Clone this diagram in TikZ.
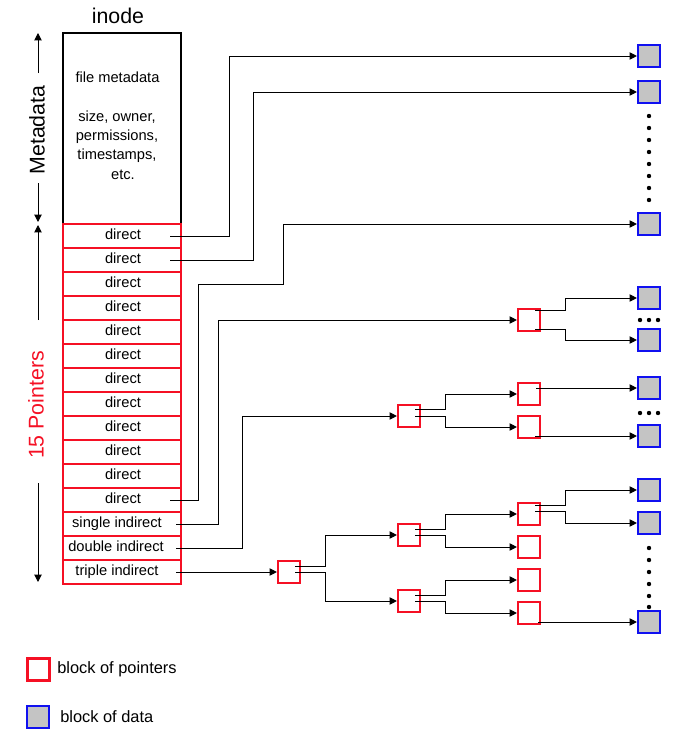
\documentclass[tikz,border=0pt]{standalone}
\usepackage{fontspec}
\setmainfont{Liberation Sans}
\usetikzlibrary{arrows.meta}
\definecolor{pred}{RGB}{245,16,36}
\definecolor{dblue}{RGB}{16,16,240}
\definecolor{dgray}{RGB}{196,196,196}
\begin{document}
\begin{tikzpicture}[x=0.75pt,y=-0.75pt,
  arr/.style={line width=0.75pt,-{Triangle[length=5.5pt,width=5.5pt]}},
  con/.style={line width=0.75pt},
  ptrblk/.style={draw=pred,line width=1.6pt,minimum size=16.5pt,inner sep=0pt},
  datblk/.style={draw=dblue,fill=dgray,line width=1.6pt,minimum size=16.5pt,inner sep=0pt},
  rowbox/.style={draw=pred,line width=1.6pt,minimum width=88.5pt,minimum height=18pt,inner sep=0pt},
  rowtxt/.style={font=\fontsize{11}{13}\selectfont,text height=8pt,text depth=2.5pt,inner sep=0pt},
  bigtxt/.style={font=\fontsize{16}{19}\selectfont,inner sep=0pt},
  legtxt/.style={font=\fontsize{12.3}{15}\selectfont,inner sep=0pt,anchor=west},
  dot/.style={fill=black}
]
\useasboundingbox (0,0) rectangle (675,739);

% inode title
\node[bigtxt] (title) at (118,16) {inode};

% metadata box
\node[draw,line width=1.6pt,minimum width=88.5pt,minimum height=143.25pt,inner sep=0pt] (meta) at (122,128.5) {};
\node[rowtxt] (m1) at (117.5,79) {file metadata};
\node[rowtxt] (m2) at (117,118) {size, owner,};
\node[rowtxt] (m3) at (117,137) {permissions,};
\node[rowtxt] (m4) at (117,156) {timestamps,};
\node[rowtxt] (m5) at (123,176) {etc.};

% pointer rows
\foreach \i in {0,...,11}
  \node[rowbox,label={[rowtxt,xshift=0.75pt]center:direct}] (r\i) at (122,{236+24*\i}) {};
\node[rowbox,label={[rowtxt,xshift=-3.75pt]center:single indirect}] (r12) at (122,524) {};
\node[rowbox,label={[rowtxt,xshift=-4.5pt]center:double indirect}] (r13) at (122,548) {};
\node[rowbox,label={[rowtxt,xshift=-3.75pt]center:triple indirect}] (r14) at (122,572) {};

% side labels
\node[bigtxt,rotate=90] (metalbl) at (37,130) {Metadata};
\coordinate (ma1) at (38,73);
\coordinate (ma2) at (38,33);
\coordinate (ma3) at (38,183);
\coordinate (ma4) at (38,222);
\draw[arr] (ma1) -- (ma2);
\draw[arr] (ma3) -- (ma4);
\node[bigtxt,rotate=90,text=pred] (ptrlbl) at (36,405) {15 Pointers};
\coordinate (pa1) at (38,320);
\coordinate (pa2) at (38,225);
\coordinate (pa3) at (38,483);
\coordinate (pa4) at (38,582);
\draw[arr] (pa1) -- (pa2);
\draw[arr] (pa3) -- (pa4);

% data blocks
\node[datblk] (b1) at (649,56) {};
\node[datblk] (b2) at (649,92) {};
\node[datblk] (b3) at (649,224) {};
\node[datblk] (b4) at (649,298) {};
\node[datblk] (b5) at (649,340) {};
\node[datblk] (b6) at (649,388) {};
\node[datblk] (b7) at (649,436) {};
\node[datblk] (b8) at (649,490) {};
\node[datblk] (b9) at (649,523) {};
\node[datblk] (b10) at (649,622) {};

% pointer blocks
\node[ptrblk] (p1) at (529,320) {};
\node[ptrblk] (p2) at (409,416) {};
\node[ptrblk] (p3) at (529,394) {};
\node[ptrblk] (p4) at (529,427) {};
\node[ptrblk] (t1) at (289,572) {};
\node[ptrblk] (t2) at (409,535) {};
\node[ptrblk] (t3) at (409,601) {};
\node[ptrblk] (t4) at (529,514) {};
\node[ptrblk] (t5) at (529,547) {};
\node[ptrblk] (t6) at (529,580) {};
\node[ptrblk] (t7) at (529,613) {};

% dots
\foreach \yy in {116,128,...,200} \fill[dot] (649,\yy) circle[radius=2.2];
\foreach \xx in {640,649,658} {\fill[dot] (\xx,320) circle[radius=2.2]; \fill[dot] (\xx,413) circle[radius=2.2];}
\foreach \yy in {548,560,572,584,596,607} \fill[dot] (649,\yy) circle[radius=2.2];

% direct connectors
\draw[arr] ([xshift=36pt]r0.center) -- ++(59,0) |- (b1);
\draw[arr] ([xshift=36pt]r1.center) -- ++(83,0) |- (b2);
\draw[arr] ([xshift=36pt]r11.center) -- ++(28,0) -- ++(0,-216) -- ++(85,0) |- (b3);
% indirect connectors
\draw[arr] ([xshift=40.5pt]r12.center) -- ++(42,0) |- (p1);
\draw[arr] ([xshift=40.5pt]r13.center) -- ++(66,0) |- (p2);
\draw[arr] ([xshift=40.5pt]r14.center) -- (t1);

% single indirect block
\draw[arr] ([shift={(6,-10)}]p1.center) -- ++(30,0) |- (b4);
\draw[arr] ([shift={(6,9)}]p1.center) -- ++(30,0) |- (b5);
% double indirect
\draw[arr] ([shift={(6,-7)}]p2.center) -- ++(30,0) |- (p3);
\draw[arr] ([shift={(6,0)}]p2.center) -- ++(30,0) |- (p4);
\draw[arr] ([shift={(7,-6)}]p3.center) -- (b6);
\draw[arr] ([shift={(6,9)}]p4.center) -- (b7);
% triple indirect
\draw[arr] ([shift={(6,-6)}]t1.center) -- ++(30,0) |- (t2);
\draw[arr] ([shift={(6,0)}]t1.center) -- ++(30,0) |- (t3);
\draw[arr] ([shift={(6,-6)}]t2.center) -- ++(30,0) |- (t4);
\draw[arr] ([shift={(6,0)}]t2.center) -- ++(30,0) |- (t5);
\draw[arr] ([shift={(6,-6)}]t3.center) -- ++(30,0) |- (t6);
\draw[arr] ([shift={(6,0)}]t3.center) -- ++(30,0) |- (t7);
\draw[arr] ([shift={(6,-9)}]t4.center) -- ++(30,0) |- (b8);
\draw[arr] ([shift={(6,-3)}]t4.center) -- ++(30,0) |- (b9);
\draw[arr] ([shift={(9,9)}]t7.center) -- (b10);

% legend
\node[ptrblk] (lp) at (38.5,669.5) {};
\node[legtxt] (lpt) at (57,669) {block of pointers};
\node[datblk] (ld) at (38,717) {};
\node[legtxt] (ldt) at (60,717) {block of data};
\end{tikzpicture}
\end{document}
